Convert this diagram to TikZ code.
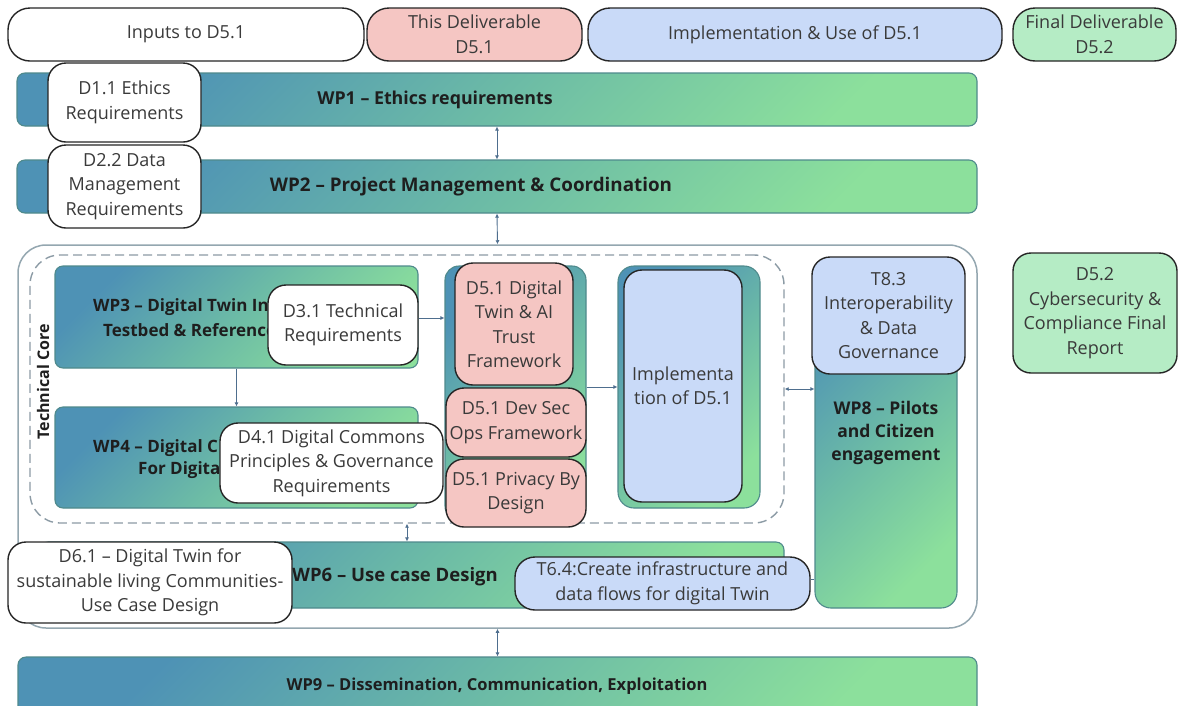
\documentclass[tikz,border=0pt]{standalone}
\usepackage{fontspec}
\setmainfont{Open Sans}
\usetikzlibrary{arrows.meta,calc}

\definecolor{wpA}{HTML}{4E92B5}
\definecolor{wpB}{HTML}{6CBBA6}
\definecolor{wpC}{HTML}{8CE09C}
\definecolor{wpEdge}{HTML}{4F8A8C}
\definecolor{pinkfill}{HTML}{F5C6C3}
\definecolor{bluefill}{HTML}{C9DAF8}
\definecolor{greenfill}{HTML}{B5ECC5}
\definecolor{txt}{HTML}{3A3A3A}
\definecolor{boldtxt}{HTML}{1E1E1E}
\definecolor{framec}{HTML}{94A7B0}
\definecolor{dashc}{HTML}{8C9BA5}
\definecolor{arrowc}{HTML}{4E6E8E}

\newcommand{\wpsize}[1]{\fontsize{#1}{23}\selectfont}

\tikzset{
  wpbar/.style={draw=wpEdge, line width=1.1pt, rounded corners=8pt,
    top color=wpA, bottom color=wpC, middle color=wpB, shading angle=45,
    inner sep=0pt},
  card/.style={draw=black!85, line width=1.4pt, rounded corners=18pt,
    inner sep=0pt, text=txt, align=center,
    font=\fontsize{18}{24.5}\selectfont},
  pill/.style={card, rounded corners=22pt},
  whitecard/.style={card, fill=white},
  pinkcard/.style={card, fill=pinkfill},
  bluecard/.style={card, fill=bluefill},
  greencard/.style={card, fill=greenfill},
  wptext/.style={font=\bfseries\wpsize{17.5}, text=boldtxt,
    align=center, inner sep=0pt},
  dblarr/.style={arrowc, line width=0.9pt,
    {Latex[length=4pt,width=4pt]}-{Latex[length=4pt,width=4pt]}},
  arr/.style={arrowc, line width=0.9pt, -{Latex[length=4pt,width=4pt]}},
}

\begin{document}
\begin{tikzpicture}[x=1pt,y=-1pt]
\useasboundingbox (0,0) rectangle (1178,705);
\clip (0,0) rectangle (1178,705);
\fill[white] (0,0) rectangle (1178,705);

% outer frame around the technical work packages
\node[draw=framec, line width=1.5pt, rounded corners=28pt,
  minimum width=959pt, minimum height=383pt] (outer) at (497.5,436.5) {};
% dashed technical core frame
\node[draw=dashc, line width=1.4pt, dash pattern=on 9pt off 5pt,
  rounded corners=30pt, minimum width=754pt, minimum height=268pt]
  (core) at (407,389) {};
\node[wptext, font=\bfseries\wpsize{16}, rotate=90] (coret) at (43,382) {Technical Core};

% WP3 and WP4
\node[wpbar, minimum width=363pt, minimum height=102pt] (wp3) at (236.5,317) {};
\node[wptext, font=\bfseries\wpsize{17}, anchor=west] (wp3a) at (93,307) {WP3 – Digital Twin In};
\node[wptext, font=\bfseries\wpsize{17}, anchor=west] (wp3b) at (103,330) {Testbed \& Reference};
\node[wpbar, minimum width=363pt, minimum height=101pt] (wp4) at (236.5,457.5) {};
\node[wptext, font=\bfseries\wpsize{17}, anchor=west] (wp4a) at (93,448) {WP4 – Digital C};
\node[wptext, font=\bfseries\wpsize{17}, anchor=west] (wp4b) at (138,470) {For Digital};
\node[whitecard, minimum width=150pt, minimum height=80pt] (d31) at (343,325)
  {D3.1 Technical\\Requirements};
\node[whitecard, minimum width=223pt, minimum height=80pt] (d41) at (331.5,463)
  {D4.1 Digital Commons\\Principles \& Governance\\Requirements};

% D5.1 components
\node[wpbar, rounded corners=14pt, minimum width=141pt, minimum height=254pt]
  (d5grp) at (515.5,393) {};
\node[pinkcard, minimum width=118pt, minimum height=122pt] (d5dt) at (514,324)
  {D5.1 Digital\\Twin \& AI\\Trust\\Framework};
\node[pinkcard, minimum width=140pt, minimum height=69pt] (d5dso) at (516,422.5)
  {D5.1 Dev Sec\\Ops Framework};
\node[pinkcard, minimum width=140pt, minimum height=68pt] (d5pbd) at (516,493)
  {D5.1 Privacy By\\Design};

% implementation of D5.1
\node[wpbar, rounded corners=16pt, minimum width=142pt, minimum height=242pt]
  (implg) at (689,387) {};
\node[bluecard, minimum width=118pt, minimum height=232pt] (impl) at (683,386)
  {Implementa\\tion of D5.1};

% WP8 with T8.3
\node[wpbar, rounded corners=16pt, minimum width=142pt, minimum height=346pt]
  (wp8) at (886,435) {};
\node[wptext, font=\bfseries\wpsize{17.5}] (wp8t) at (886,433) {WP8 – Pilots\\and Citizen\\engagement};
\node[bluecard, minimum width=153pt, minimum height=117pt] (t83) at (888.5,315.5)
  {T8.3\\Interoperability\\\& Data\\Governance};

% WP6
\node[wpbar, minimum width=744pt, minimum height=66pt] (wp6) at (412,575) {};
\node[wptext, font=\bfseries\wpsize{18.5}] (wp6t) at (395,577) {WP6 – Use case Design};
\node[whitecard, minimum width=284pt, minimum height=81pt] (d61) at (150,582.5)
  {D6.1 – Digital Twin for\\sustainable living Communities-\\Use Case Design};
\node[bluecard, rounded corners=20pt, minimum width=295pt, minimum height=53pt]
  (t64) at (662.5,583.5)
  {T6.4:Create infrastructure and\\data flows for digital Twin};

% WP9
\node[wpbar, minimum width=959pt, minimum height=60pt] (wp9) at (497.5,687) {};
\node[wptext, font=\bfseries\wpsize{16.5}] (wp9t) at (497,686) {WP9 – Dissemination, Communication, Exploitation};

% WP1 and WP2
\node[wpbar, minimum width=960pt, minimum height=53pt] (wp1) at (497,99.5) {};
\node[wptext, font=\bfseries\wpsize{17.8}] (wp1t) at (435,100) {WP1 – Ethics requirements};
\node[wpbar, minimum width=960pt, minimum height=53pt] (wp2) at (497,186.5) {};
\node[wptext, font=\bfseries\wpsize{18.8}] (wp2t) at (471,187) {WP2 – Project Management \& Coordination};
\node[whitecard, minimum width=153pt, minimum height=79pt] (d11) at (124.5,102.5)
  {D1.1 Ethics\\Requirements};
\node[whitecard, minimum width=153pt, minimum height=83pt] (d22) at (124.5,186.5)
  {D2.2 Data\\Management\\Requirements};

% legend row
\node[pill, fill=white, minimum width=356pt, minimum height=53pt] (inputs)
  at (186,34.5) {Inputs to D5.1};
\node[pill, fill=pinkfill, minimum width=215pt, minimum height=53pt] (thisdel)
  at (474.5,34.5) {This Deliverable\\D5.1};
\node[pill, fill=bluefill, minimum width=414pt, minimum height=53pt] (impluse)
  at (795,34.5) {Implementation \& Use of D5.1};
\node[pill, fill=greenfill, minimum width=163pt, minimum height=53pt] (finaldel)
  at (1094.5,34.5) {Final Deliverable\\D5.2};

% final deliverable
\node[greencard, minimum width=164pt, minimum height=120pt] (d52) at (1095,313)
  {D5.2\\Cybersecurity \&\\Compliance Final\\Report};

% connectors
\draw[dblarr] (wp1.south) -- (wp2.north);
\draw[dblarr] (wp2.south) -- (outer.north);
\draw[dblarr] (outer.south) -- (wp9.north);
\draw[dblarr] (core.south) -- (core.south |- wp6.north);
\draw[arr] (wp3.south) -- (wp4.north);
\draw[arr] ([yshift=7pt]d31.east) -- ([yshift=7pt]d31.east -| d5grp.west);
\draw[arr] (d5grp.east |- implg.west) -- (implg.west);
\draw[dblarr] (core.east) -- (core.east -| wp8.west);
\draw[arrowc, line width=0.9pt] ([yshift=4pt]t64.east) -- ([yshift=4pt]t64.east -| wp8.west);
\end{tikzpicture}
\end{document}
